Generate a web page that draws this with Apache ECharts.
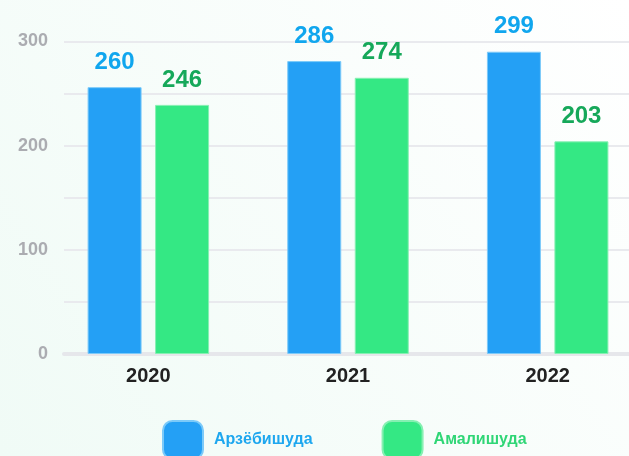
<!DOCTYPE html>
<html>
<head>
<meta charset="utf-8">
<script src="https://cdn.jsdelivr.net/npm/echarts@6/dist/echarts.min.js"></script>
<style>
  html, body { margin: 0; padding: 0; background: #fff; }
  #chart { width: 629px; height: 456px; }
</style>
</head>
<body>
<div id="chart"></div>
<script>
const years = ['2020', '2021', '2022'];
// bar heights as drawn
const arzebishuda = [256, 281, 290];
const amalishuda = [239, 265, 204];
// numbers printed above the bars
const arzebishudaLabels = ['260', '286', '299'];
const amalishudaLabels = ['246', '274', '203'];
const yTickLabels = [0, 100, 200, 300];

const chart = echarts.init(document.getElementById('chart'));

const font = 'Arial, "Liberation Sans", sans-serif';

const option = {
  animation: false,
  backgroundColor: {
    type: 'linear', x: 0, y: 1, x2: 1, y2: 0,
    colorStops: [
      { offset: 0, color: '#f0fbf6' },
      { offset: 1, color: '#ffffff' }
    ]
  },
  legend: {
    left: 157,
    top: 415,
    itemWidth: 40,
    itemHeight: 38,
    itemGap: 69,
    icon: 'roundRect',
    textStyle: { fontSize: 16, fontWeight: 'bold', fontFamily: font, padding: [0, 0, 0, 6] },
    data: [
      { name: 'Арзёбишуда', textStyle: { color: '#1ea7ef' } },
      { name: 'Амалишуда', textStyle: { color: '#2fd676' } }
    ]
  },
  grid: [
    // split lines and y labels
    { left: 64, top: 41.3, width: 600, bottom: 102, outerBoundsMode: 'none', containLabel: false },
    // bars
    { left: 48.5, top: 41.3, width: 599, bottom: 102, outerBoundsMode: 'none', containLabel: false }
  ],
  xAxis: [
    {
      gridIndex: 0,
      type: 'value',
      min: 0,
      max: 1,
      axisLine: { show: true, lineStyle: { color: '#e6e7eb', width: 4 } },
      axisTick: { show: false },
      axisLabel: { show: false },
      splitLine: { show: false }
    },
    {
      gridIndex: 1,
      type: 'category',
      data: years,
      axisLine: { show: false },
      axisTick: { show: false },
      axisLabel: {
        color: '#222',
        fontSize: 20,
        fontWeight: 'bold',
        fontFamily: font,
        margin: 12
      }
    }
  ],
  yAxis: [
    {
      gridIndex: 0,
      type: 'value',
      min: 0,
      max: 300,
      interval: 50,
      axisLine: { show: false },
      axisTick: { show: false },
      axisLabel: {
        color: '#abacb1',
        fontSize: 18,
        fontWeight: 'bold',
        fontFamily: font,
        margin: 16,
        formatter: v => (yTickLabels.indexOf(v) >= 0 ? String(v) : '')
      },
      splitLine: { lineStyle: { color: '#e9eaee', width: 2 } }
    },
    {
      gridIndex: 1,
      type: 'value',
      min: 0,
      max: 300,
      show: false,
      splitLine: { show: false }
    }
  ],
  series: [
    {
      name: 'Арзёбишуда',
      type: 'bar',
      xAxisIndex: 1,
      yAxisIndex: 1,
      data: arzebishuda,
      barWidth: 54,
      barGap: '25%',
      itemStyle: { color: '#24a0f5', borderColor: '#7ccaf9', borderWidth: 1 },
      label: {
        show: true,
        position: 'top',
        distance: 13,
        color: '#10a6ee',
        fontSize: 24,
        fontWeight: 'bold',
        fontFamily: font,
        formatter: p => arzebishudaLabels[p.dataIndex]
      }
    },
    {
      name: 'Амалишуда',
      type: 'bar',
      xAxisIndex: 1,
      yAxisIndex: 1,
      data: amalishuda,
      barWidth: 54,
      barGap: '25%',
      itemStyle: { color: '#34e884', borderColor: '#86f0b2', borderWidth: 1 },
      label: {
        show: true,
        position: 'top',
        distance: 13,
        color: '#16a85a',
        fontSize: 24,
        fontWeight: 'bold',
        fontFamily: font,
        formatter: p => amalishudaLabels[p.dataIndex]
      }
    }
  ]
};

chart.setOption(option);
</script>
</body>
</html>
